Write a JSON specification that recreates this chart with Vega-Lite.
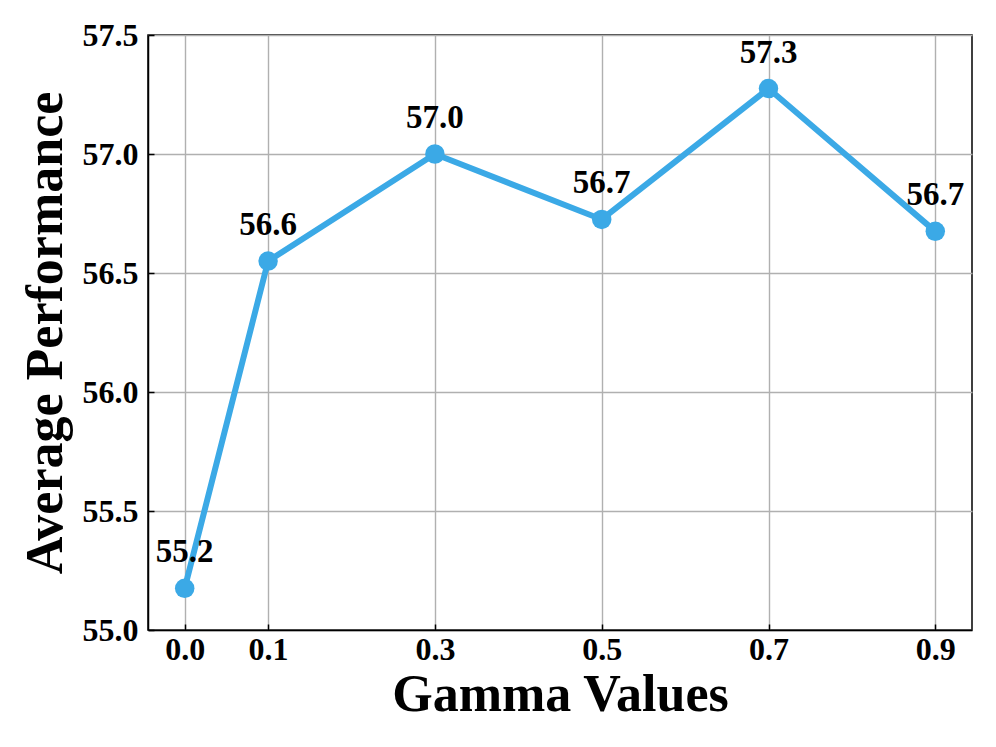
{
  "$schema": "https://vega.github.io/schema/vega-lite/v6.json",
  "width": 824,
  "height": 595,
  "autosize": "none",
  "padding": {"left": 148, "top": 35, "right": 24, "bottom": 117},
  "background": "white",
  "config": {
    "font": "Liberation Serif",
    "view": {"stroke": "black", "strokeWidth": 1.5}
  },
  "data": {
    "values": [
      {"gamma": 0.0, "perf": 55.175, "label": "55.2"},
      {"gamma": 0.1, "perf": 56.55, "label": "56.6"},
      {"gamma": 0.3, "perf": 57.0, "label": "57.0"},
      {"gamma": 0.5, "perf": 56.725, "label": "56.7"},
      {"gamma": 0.7, "perf": 57.275, "label": "57.3"},
      {"gamma": 0.9, "perf": 56.675, "label": "56.7"}
    ]
  },
  "encoding": {
    "x": {
      "field": "gamma",
      "type": "quantitative",
      "scale": {"domain": [-0.044, 0.944], "nice": false, "zero": false},
      "axis": {
        "values": [0.0, 0.1, 0.3, 0.5, 0.7, 0.9],
        "format": ".1f",
        "title": "Gamma Values",
        "titleFontSize": 52,
        "titleFontWeight": "bold",
        "titleColor": "black",
        "titlePadding": 4,
        "labelFontSize": 32,
        "labelFontWeight": "bold",
        "labelColor": "black",
        "labelPadding": 10,
        "tickSize": -6,
        "tickColor": "black",
        "tickWidth": 1.5,
        "domainColor": "black",
        "domainWidth": 1.5,
        "gridColor": "#b0b0b0",
        "gridWidth": 1.4,
        "labelFlush": false
      }
    },
    "y": {
      "field": "perf",
      "type": "quantitative",
      "scale": {"domain": [55.0, 57.5], "nice": false, "zero": false},
      "axis": {
        "values": [55.0, 55.5, 56.0, 56.5, 57.0, 57.5],
        "format": ".1f",
        "title": "Average Performance",
        "titleFontSize": 52,
        "titleFontWeight": "bold",
        "titleColor": "black",
        "titlePadding": 10,
        "labelFontSize": 32,
        "labelFontWeight": "bold",
        "labelColor": "black",
        "labelPadding": 16,
        "tickSize": -6,
        "tickColor": "black",
        "tickWidth": 1.5,
        "domainColor": "black",
        "domainWidth": 1.5,
        "gridColor": "#b0b0b0",
        "gridWidth": 1.4,
        "labelFlush": false
      }
    }
  },
  "layer": [
    {"mark": {"type": "line", "color": "#3ba9e6", "strokeWidth": 6}},
    {"mark": {"type": "point", "filled": true, "opacity": 1, "color": "#3ba9e6", "size": 380}},
    {
      "mark": {"type": "text", "fontSize": 33, "fontWeight": "bold", "color": "black", "baseline": "alphabetic", "dy": -26},
      "encoding": {"text": {"field": "label"}}
    }
  ]
}
